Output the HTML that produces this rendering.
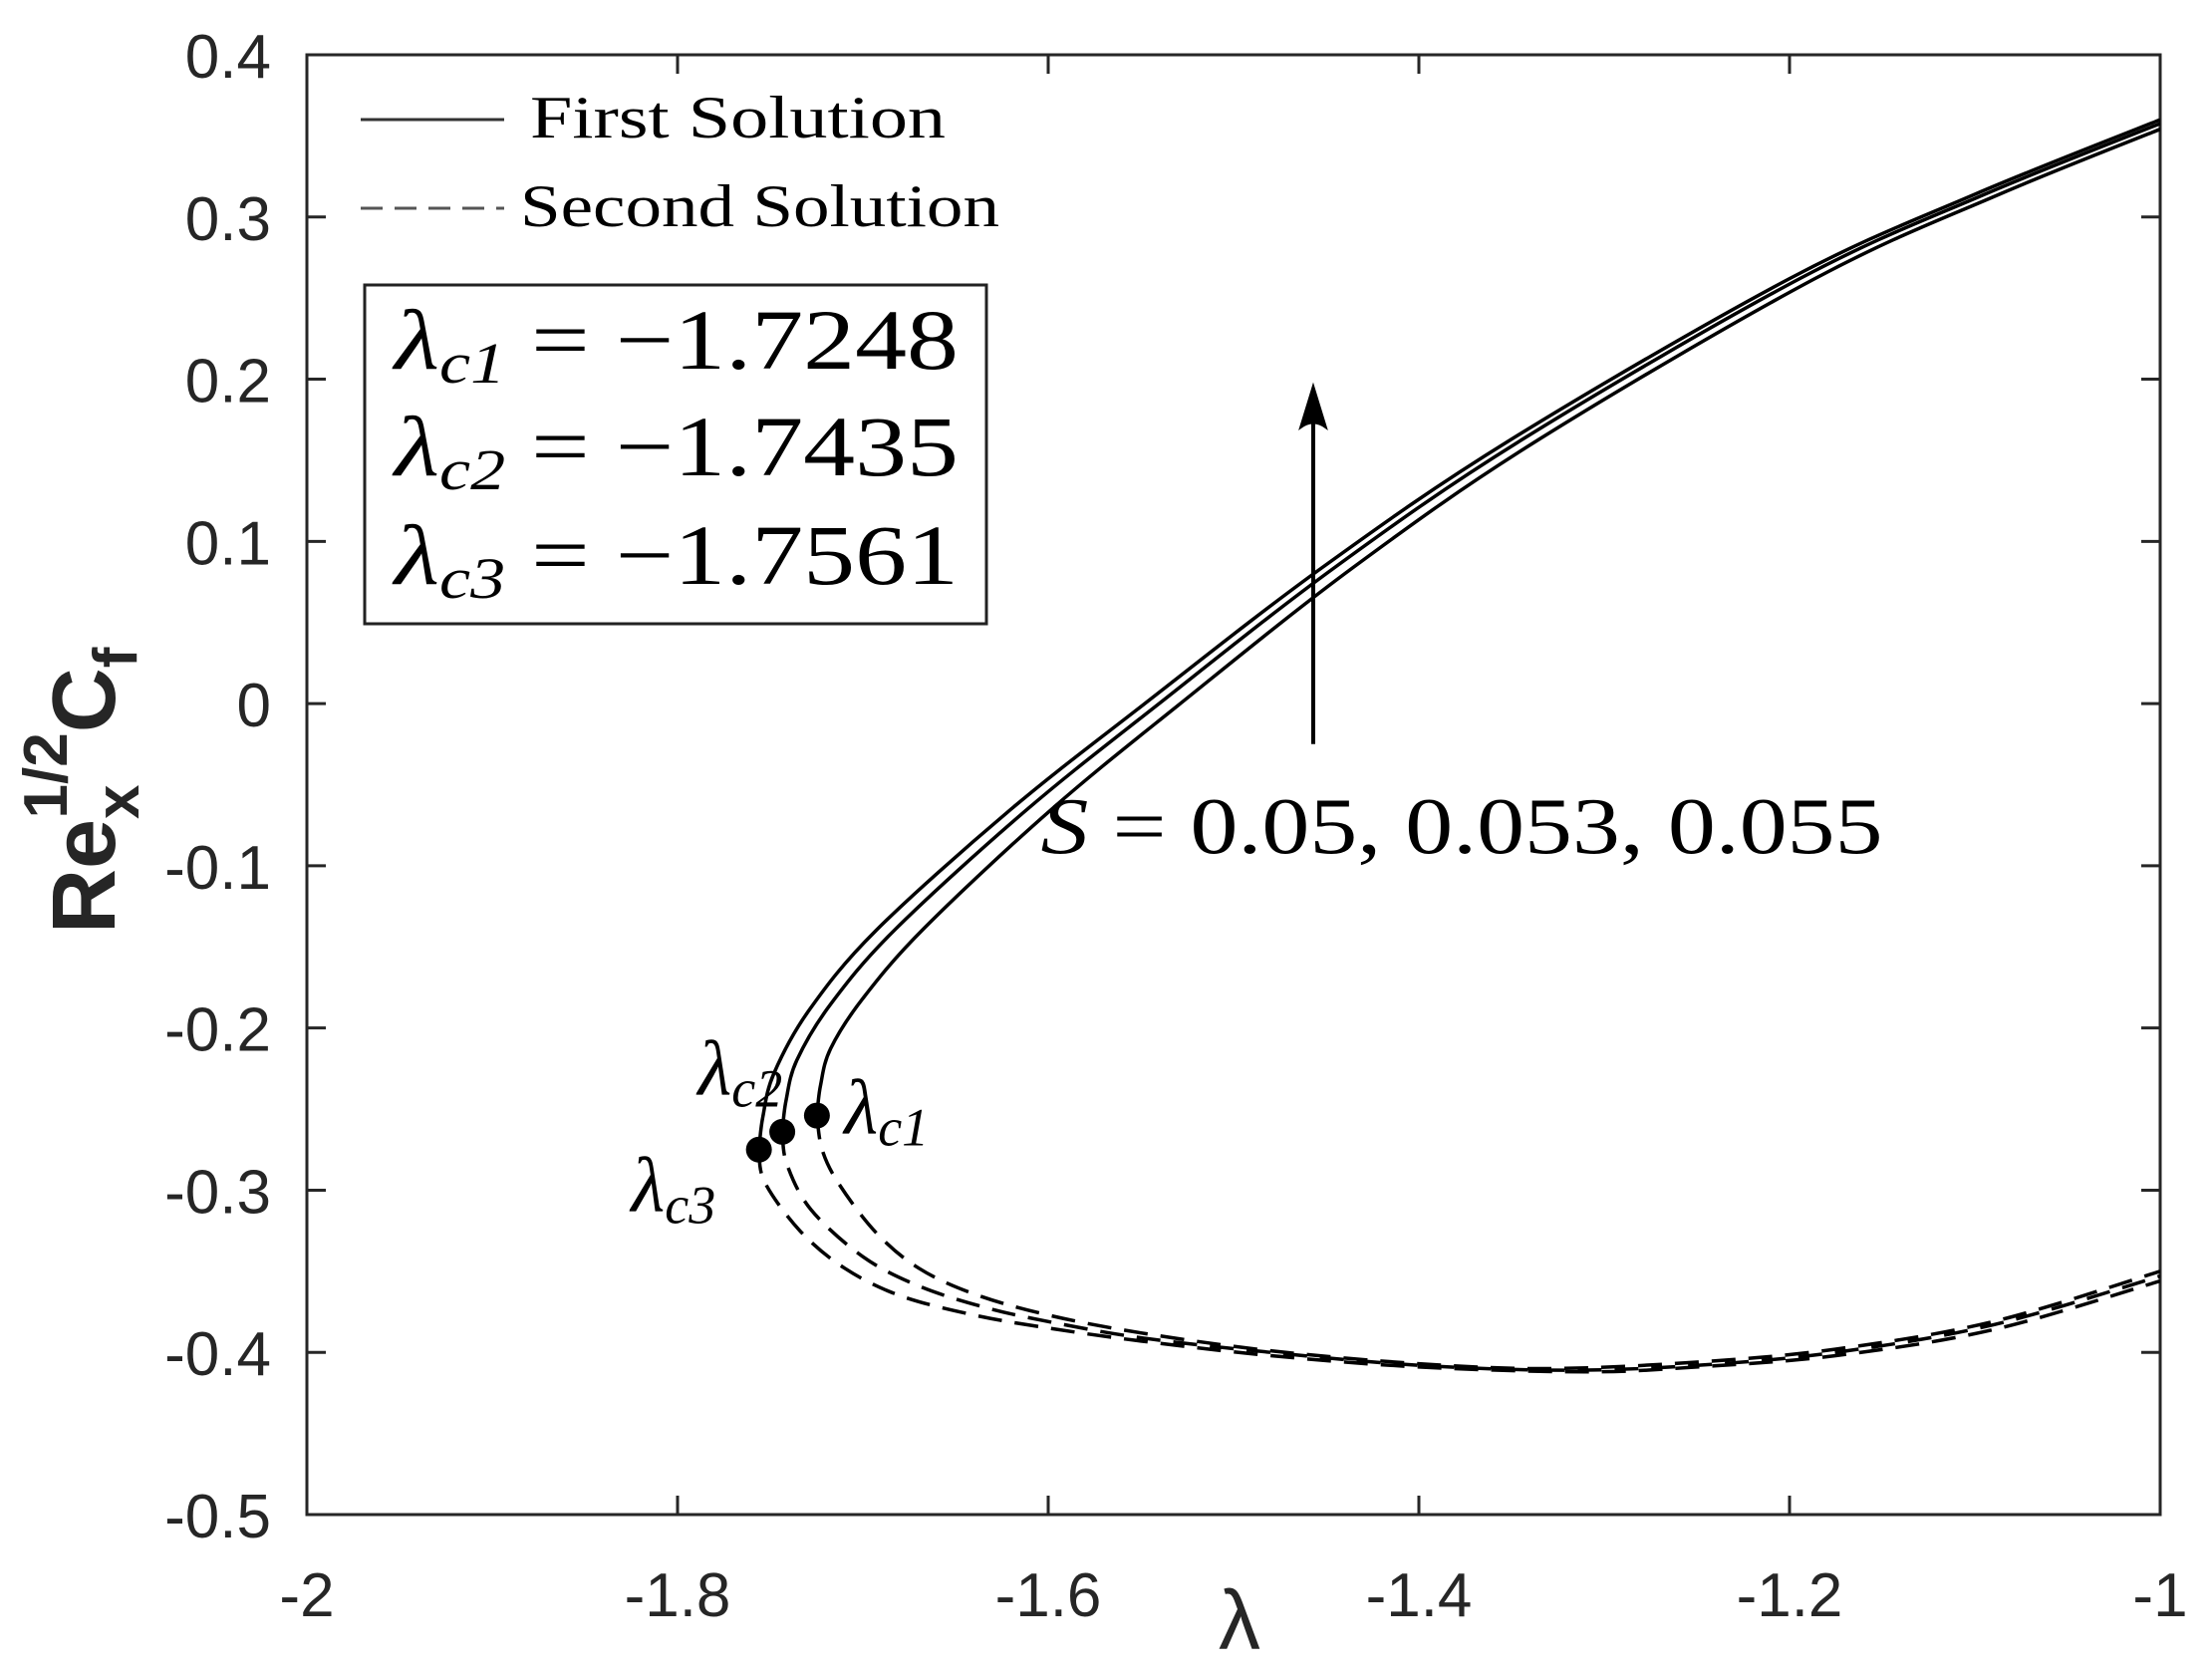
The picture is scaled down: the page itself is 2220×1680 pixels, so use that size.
<!DOCTYPE html>
<html><head><meta charset="utf-8"><style>
html,body{margin:0;padding:0;background:#fff;}
svg{display:block;}
.t{font-family:"Liberation Sans",sans-serif;font-size:62px;fill:#262626;}
.s{font-family:"Liberation Serif",serif;fill:#000;}
</style></head><body>
<svg id="g" width="2220" height="1680" xmlns="http://www.w3.org/2000/svg"></svg>
<script>
const svg=document.getElementById('g');
const L=308,R=2168,T=55,B=1520;
const X=l=>L+(l+2)*(R-L);
const Y=y=>T+(0.4-y)*(B-T)/0.9;
let h='<defs><clipPath id="cp"><rect x="'+L+'" y="'+T+'" width="'+(R-L)+'" height="'+(B-T)+'"/></clipPath></defs>';
h+=`<rect x="${L}" y="${T}" width="${R-L}" height="${B-T}" fill="none" stroke="#262626" stroke-width="3"/>`;
for(let i=0;i<=5;i++){const l=-2+i*0.2,x=X(l);
 h+=`<line x1="${x}" y1="${B}" x2="${x}" y2="${B-19}" stroke="#262626" stroke-width="3"/><line x1="${x}" y1="${T}" x2="${x}" y2="${T+19}" stroke="#262626" stroke-width="3"/>`;
 const lab=(i==0)?'-2':(i==5)?'-1':l.toFixed(1);
 h+=`<text class="t" x="${x}" y="1622" text-anchor="middle">${lab}</text>`;}
for(let i=0;i<=9;i++){const v=0.4-i*0.1,y=Y(v);
 h+=`<line x1="${L}" y1="${y}" x2="${L+19}" y2="${y}" stroke="#262626" stroke-width="3"/><line x1="${R}" y1="${y}" x2="${R-19}" y2="${y}" stroke="#262626" stroke-width="3"/>`;
 let lab=Math.abs(v)<1e-9?'0':v.toFixed(1);
 h+=`<text class="t" x="272" y="${y+23}" text-anchor="end">${lab}</text>`;}
const U3=[[-1.7561,-0.275],[-1.754,-0.255],[-1.748,-0.228],[-1.729,-0.189],[-1.693,-0.140],[-1.621,-0.066],[-1.549,-0.001],[-1.452,0.084],[-1.35,0.163],[-1.2,0.262],[-1.1,0.314],[-1,0.360]];
const crit=[[-1.7248,-0.254],[-1.7435,-0.264],[-1.7561,-0.275]];
const U=crit.map(c=>{const dl=c[0]+1.7561,dy=c[1]+0.275;
 return U3.map(p=>{const d=p[0]+1.7561;const wl=0.4+0.6*Math.exp(-d/0.2),wy=Math.exp(-d/0.025);return [p[0]+dl*wl,p[1]+dy*wy];});});
const D=[
[[-1.7248,-0.254],[-1.722,-0.275],[-1.713,-0.296],[-1.693,-0.326],[-1.67,-0.348],[-1.64,-0.364],[-1.60,-0.377],[-1.55,-0.388],[-1.48,-0.399],[-1.40,-0.407],[-1.33,-0.410],[-1.25,-0.406],[-1.175,-0.398],[-1.09,-0.381],[-1,-0.350]],
[[-1.7435,-0.264],[-1.741,-0.284],[-1.728,-0.312],[-1.70,-0.341],[-1.67,-0.359],[-1.635,-0.372],[-1.60,-0.381],[-1.55,-0.391],[-1.48,-0.400],[-1.40,-0.408],[-1.32,-0.411],[-1.25,-0.408],[-1.175,-0.400],[-1.09,-0.383],[-1,-0.353]],
[[-1.7561,-0.275],[-1.753,-0.295],[-1.734,-0.325],[-1.71,-0.348],[-1.68,-0.365],[-1.64,-0.377],[-1.60,-0.385],[-1.55,-0.393],[-1.48,-0.402],[-1.40,-0.409],[-1.31,-0.412],[-1.25,-0.409],[-1.175,-0.402],[-1.09,-0.386],[-1,-0.356]]];
function path(p0s){const pts=p0s.map(p=>[X(p[0]),Y(p[1])]);let d=`M${pts[0][0]},${pts[0][1]}`;
 for(let i=0;i<pts.length-1;i++){const p0=pts[Math.max(0,i-1)],p1=pts[i],p2=pts[i+1],p3=pts[Math.min(pts.length-1,i+2)];
  d+=` C${p1[0]+(p2[0]-p0[0])/6},${p1[1]+(p2[1]-p0[1])/6} ${p2[0]-(p3[0]-p1[0])/6},${p2[1]-(p3[1]-p1[1])/6} ${p2[0]},${p2[1]}`;}
 return d;}
h+='<g clip-path="url(#cp)">';
for(let i=0;i<3;i++){
 h+=`<path d="${path(U[i])}" fill="none" stroke="#000" stroke-width="3.5"/>`;
 h+=`<path d="${path(D[i])}" fill="none" stroke="#000" stroke-width="3.5" stroke-dasharray="24,13"/>`;}
h+='</g>';
for(let i=0;i<3;i++) h+=`<circle cx="${X(crit[i][0])}" cy="${Y(crit[i][1])}" r="13" fill="#000"/>`;
h+=`<line x1="${X(-1.457)}" y1="${Y(-0.025)}" x2="${X(-1.457)}" y2="${Y(0.18)}" stroke="#000" stroke-width="4"/>`;
h+=`<path d="M${X(-1.457)-13},${Y(0.170)} Q${X(-1.457)},${Y(0.176)} ${X(-1.457)+13},${Y(0.170)} L${X(-1.457)},${Y(0.196)} Z" fill="#000" stroke="#000" stroke-width="2"/>`;
h+=`<text class="s" x="${X(-1.604)}" y="${Y(-0.092)}" font-size="80" textLength="845" lengthAdjust="spacingAndGlyphs"><tspan font-style="italic">S</tspan> = 0.05, 0.053, 0.055</text>`;
function lam(x,y,sub){return `<text class="s" x="${X(x)}" y="${Y(y)}" font-size="78"><tspan font-style="italic">λ</tspan><tspan font-style="italic" font-size="54" dy="12">${sub}</tspan></text>`;}
h+=lam(-1.710,-0.265,'c1');h+=lam(-1.789,-0.241,'c2');h+=lam(-1.825,-0.313,'c3');
h+=`<line x1="362" y1="120" x2="506" y2="120" stroke="#333" stroke-width="3"/>`;
h+=`<text class="s" x="532" y="138" font-size="60" fill="#222" textLength="417" lengthAdjust="spacingAndGlyphs">First Solution</text>`;
h+=`<line x1="362" y1="209" x2="506" y2="209" stroke="#555" stroke-width="3" stroke-dasharray="22,12"/>`;
h+=`<text class="s" x="522" y="227" font-size="60" fill="#222" textLength="481" lengthAdjust="spacingAndGlyphs">Second Solution</text>`;
h+=`<rect x="366" y="286" width="624" height="340" fill="#fff" stroke="#222" stroke-width="3"/>`;
const vals=[['c1','1.7248',370],['c2','1.7435',477],['c3','1.7561',586]];
for(const v of vals){h+=`<text class="s" x="396" y="${v[2]}" font-size="86" textLength="566" lengthAdjust="spacingAndGlyphs"><tspan font-style="italic">λ</tspan><tspan font-style="italic" font-size="58" dy="14">${v[0]}</tspan><tspan dy="-14"> = −${v[1]}</tspan></text>`;}
h+=`<text x="1244" y="1655" font-family="Liberation Sans,sans-serif" font-size="84" fill="#262626" text-anchor="middle">λ</text>`;
h+=`<text transform="translate(115,937) rotate(-90)" font-family="Liberation Sans,sans-serif" font-weight="bold" font-size="90" fill="#262626">Re<tspan font-size="62" dy="24">x</tspan><tspan font-size="62" dx="-34" dy="-72">1/2</tspan><tspan dy="48">C</tspan><tspan font-size="62" dy="22">f</tspan></text>`;
svg.innerHTML=h;
</script>
</body></html>
